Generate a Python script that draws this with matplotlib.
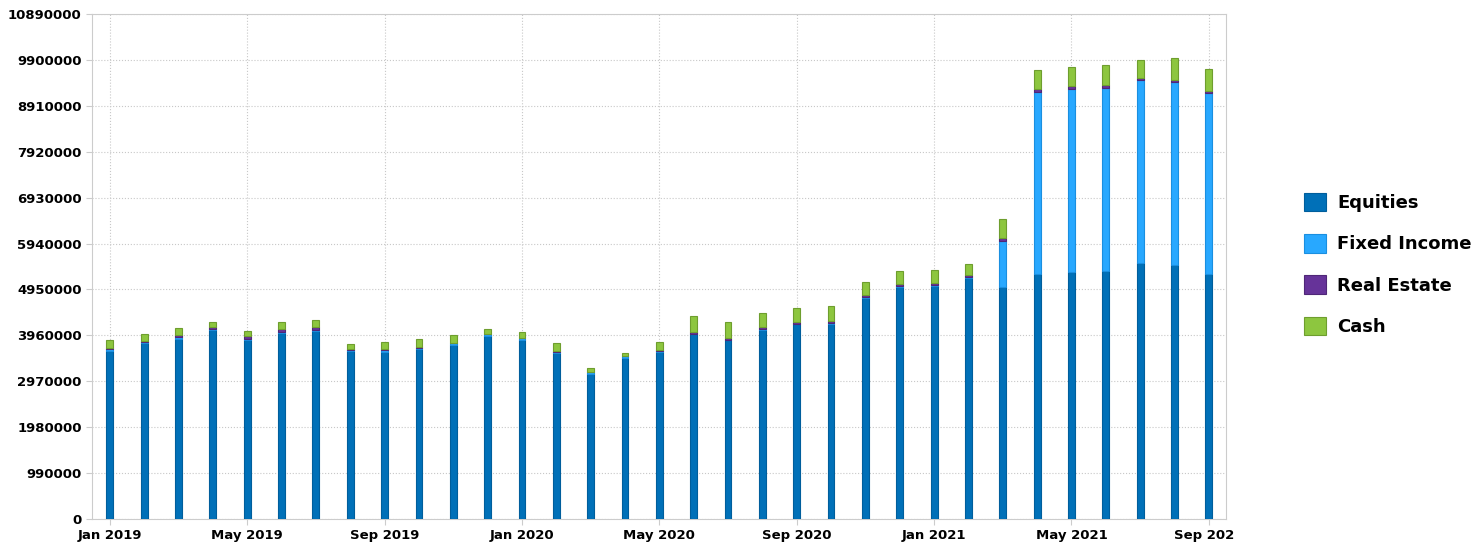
import matplotlib
matplotlib.use("Agg")
import matplotlib.pyplot as plt
from matplotlib.patches import Patch
from matplotlib.transforms import Bbox
import numpy as np

months = ["Jan 2019", "Feb 2019", "Mar 2019", "Apr 2019", "May 2019", "Jun 2019", "Jul 2019",
          "Aug 2019", "Sep 2019", "Oct 2019", "Nov 2019", "Dec 2019",
          "Jan 2020", "Feb 2020", "Mar 2020", "Apr 2020", "May 2020", "Jun 2020", "Jul 2020",
          "Aug 2020", "Sep 2020", "Oct 2020", "Nov 2020", "Dec 2020",
          "Jan 2021", "Feb 2021", "Mar 2021", "Apr 2021", "May 2021", "Jun 2021", "Jul 2021",
          "Aug 2021", "Sep 2021"]

equities = [3.63, 3.79, 3.89, 4.08, 3.87, 4.02, 4.05, 3.62, 3.60, 3.66, 3.75, 3.95,
            3.86, 3.57, 3.13, 3.48, 3.60, 3.99, 3.86, 4.08, 4.20, 4.21, 4.77, 5.00,
            5.03, 5.20, 5.01, 5.28, 5.32, 5.34, 5.51, 5.47, 5.28]
fixed_income = [0.04, 0.02, 0.03, 0.02, 0.02, 0.02, 0.02, 0.03, 0.05, 0.03, 0.04, 0.03,
                0.04, 0.04, 0.04, 0.03, 0.03, 0.01, 0.01, 0.01, 0.01, 0.02, 0.01, 0.02,
                0.02, 0.02, 0.99, 3.93, 3.95, 3.95, 3.96, 3.95, 3.91]
real_estate = [0.02, 0.03, 0.04, 0.04, 0.05, 0.05, 0.06, 0.01, 0.01, 0.01, 0.01, 0.01,
               0.01, 0.01, 0.01, 0.01, 0.01, 0.03, 0.04, 0.04, 0.03, 0.04, 0.04, 0.04,
               0.04, 0.04, 0.06, 0.06, 0.06, 0.06, 0.05, 0.05, 0.05]
cash = [0.17, 0.16, 0.15, 0.11, 0.12, 0.16, 0.16, 0.11, 0.15, 0.18, 0.17, 0.11,
        0.13, 0.17, 0.07, 0.07, 0.17, 0.35, 0.34, 0.32, 0.32, 0.32, 0.28, 0.29,
        0.29, 0.24, 0.40, 0.42, 0.42, 0.43, 0.37, 0.47, 0.47]

series_names = ["Equities", "Fixed Income", "Real Estate", "Cash"]
colors = ["#0070B8", "#28A8FF", "#663399", "#8DC63F"]
edges = ["#005E9C", "#1A8FE0", "#4F2777", "#6E9E2E"]

yticks = [0, 990000, 1980000, 2970000, 3960000, 4950000, 5940000, 6930000,
          7920000, 8910000, 9900000, 10890000]

plt.rcParams['font.family'] = ['DejaVu Sans']

fig = plt.figure(figsize=(14.75, 5.43), dpi=100)
ax = fig.add_axes([92/1475, 24/543, (1226-92)/1475, (519-14)/543])

x = np.arange(len(months))
data = [np.array(s) * 1e6 for s in (equities, fixed_income, real_estate, cash)]
bottom = np.zeros(len(months))
for vals, c, ec in zip(data, colors, edges):
    ax.bar(x, vals, width=0.2, bottom=bottom, color=c, edgecolor=ec, linewidth=0.8, zorder=3)
    bottom += vals

ax.set_xlim(-0.52, len(months) - 0.5)
ax.set_ylim(0, 10890000)
ax.set_yticks(yticks)
ax.set_yticklabels([str(v) for v in yticks], fontsize=9.5, fontweight='bold')
tick_idx = list(range(0, len(months), 4))
ax.set_xticks(tick_idx)
ax.set_xticklabels([months[i] for i in tick_idx], fontsize=9.5, fontweight='bold')

ax.grid(True, color='#c8c8c8', linestyle=':', linewidth=0.8, zorder=0)
for sp in ax.spines.values():
    sp.set_color('#cccccc')
ax.tick_params(axis='both', colors='#cccccc', labelcolor='black', length=4, width=0.8)

# clip last x label like reference
fig.canvas.draw()
clip = Bbox.from_extents(0, 0, 1234, 543)
for lbl in ax.get_xticklabels():
    lbl.set_clip_on(True)
    lbl.set_clip_box(clip)

handles = [Patch(facecolor=c, edgecolor=ec, linewidth=0.8) for c, ec in zip(colors, edges)]
fig.legend(handles, series_names, loc='center left', bbox_to_anchor=(1304/1475, 0.513),
           frameon=False, prop={'weight': 'bold', 'size': 13},
           handlelength=1.2, handleheight=1.2, labelspacing=1.22, handletextpad=0.65,
           borderpad=0, borderaxespad=0)

fig.savefig("out.png", dpi=100)
